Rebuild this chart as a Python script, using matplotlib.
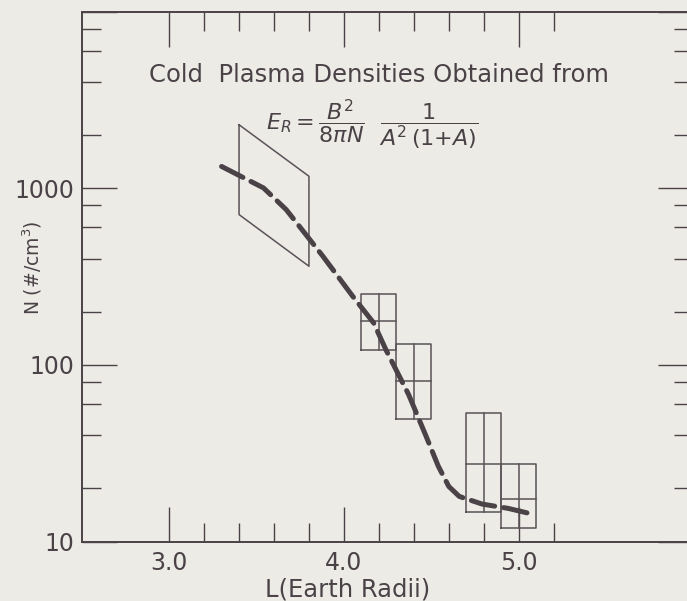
import numpy as np
import matplotlib.pyplot as plt
from matplotlib.ticker import FixedLocator, NullFormatter

# dashed curve: cold plasma density vs L
curve_L = [3.30, 3.54, 3.67, 3.79, 3.88, 4.05, 4.17, 4.24, 4.37, 4.47, 4.54, 4.60, 4.66, 4.79, 4.94, 5.09]
curve_N = [1330, 1005, 757, 535, 412, 245, 173, 122, 68, 39.5, 26.7, 20.5, 18.0, 16.3, 15.4, 14.2]

# parallelogram (first data range)
para_L = [3.4, 3.8, 3.8, 3.4, 3.4]
para_N = [2290, 1170, 362, 710, 2290]

# split boxes
box_L_lo = [4.1, 4.3, 4.7, 4.9]
box_L_hi = [4.3, 4.5, 4.9, 5.1]
box_N_lo = [122, 49.5, 14.6, 12.0]
box_N_mid = [177, 81, 27.3, 17.3]
box_N_hi = [252, 132, 53.6, 27.3]

x_major = [3.0, 4.0, 5.0]
x_major_labels = ["3.0", "4.0", "5.0"]
x_minor = [3.2, 3.4, 3.6, 3.8, 4.2, 4.4, 4.6, 4.8, 5.2]
y_major = [10, 100, 1000, 10000]
y_major_labels = ["10", "100", "1000", ""]
y_minor = [20, 40, 60, 80, 200, 400, 600, 800, 2000, 4000, 6000, 8000]

bg = "#ecebe6"
ink = "#4a4247"
thin = "#5a5257"

plt.rcParams["font.family"] = ["DejaVu Sans"]
plt.rcParams["mathtext.fontset"] = "dejavusans"

fig = plt.figure(figsize=(6.87, 6.01), dpi=100)
fig.patch.set_facecolor(bg)
ax = fig.add_axes([0.119, 0.099, 0.8904, 0.8815])
ax.set_facecolor(bg)
ax.set_yscale("log")
ax.set_xlim(2.5, 6.0)
ax.set_ylim(10, 10000)

# parallelogram
ax.plot(para_L, para_N, color=thin, lw=1.1)

# boxes with centre cross lines
for i in range(len(box_L_lo)):
    x0, x1 = box_L_lo[i], box_L_hi[i]
    xm = (x0 + x1) / 2
    ax.plot([x0, x1, x1, x0, x0],
            [box_N_lo[i], box_N_lo[i], box_N_hi[i], box_N_hi[i], box_N_lo[i]],
            color=thin, lw=1.1)
    ax.plot([xm, xm], [box_N_lo[i], box_N_hi[i]], color=thin, lw=1.1)
    ax.plot([x0, x1], [box_N_mid[i], box_N_mid[i]], color=thin, lw=1.1)

ax.plot(curve_L, curve_N, color=ink, lw=3.6, dashes=(4.8, 1.8),
        dash_capstyle="round", zorder=5)

for s in ax.spines.values():
    s.set_color(ink)
    s.set_linewidth(1.4)

ax.xaxis.set_major_locator(FixedLocator(x_major))
ax.xaxis.set_minor_locator(FixedLocator(x_minor))
ax.set_xticklabels(x_major_labels)
ax.yaxis.set_major_locator(FixedLocator(y_major))
ax.yaxis.set_minor_locator(FixedLocator(y_minor))
ax.set_yticklabels(y_major_labels)
ax.yaxis.set_minor_formatter(NullFormatter())

ax.tick_params(which="both", direction="in", top=True, right=True,
               color=ink, width=1.0, labelcolor=ink, labelsize=17)
ax.tick_params(which="major", length=25)
ax.tick_params(which="minor", length=13.5)
ax.tick_params(axis="x", pad=7)
ax.tick_params(axis="y", pad=5)

ax.set_xlabel("L(Earth Radii)", fontsize=17.5, color=ink)
ax.xaxis.set_label_coords(0.434, -0.068)
ax.set_ylabel("N (#/cm$^3$)", fontsize=13.5, color=ink)
ax.yaxis.set_label_coords(-0.062, 0.516)

ax.text(0.486, 0.8805, "Cold  Plasma Densities Obtained from", transform=ax.transAxes,
        ha="center", va="center", fontsize=17.5, color=ink)
ax.text(0.475, 0.787, r"$E_R = \dfrac{B^2}{8\pi N}\ \ \dfrac{1}{A^2\,(1{+}A)}$",
        transform=ax.transAxes, ha="center", va="center", fontsize=16, color=ink)

fig.savefig("out.png", dpi=100, facecolor=bg)
